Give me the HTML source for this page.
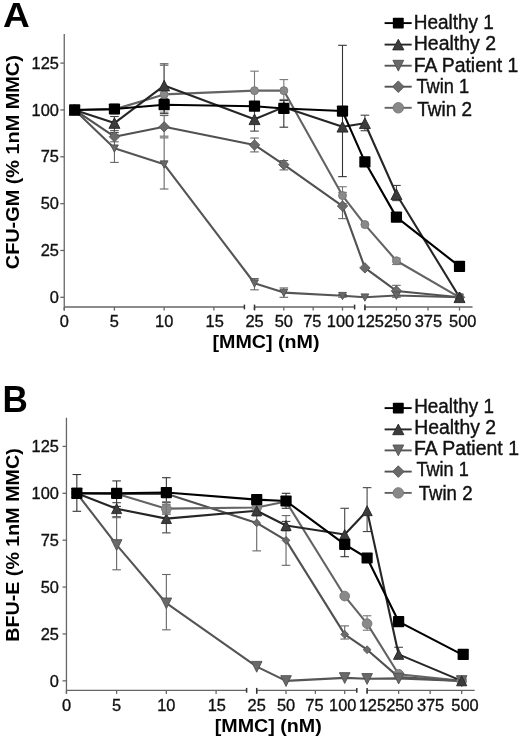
<!DOCTYPE html>
<html><head><meta charset="utf-8"><style>
html,body{margin:0;padding:0;background:#fff;}
svg{display:block;filter:grayscale(1) blur(0.35px);}
text{font-family:"Liberation Sans",sans-serif;fill:#111;}
.tk{font-size:16.4px;stroke:#111;stroke-width:0.35px;}
.lg{font-size:19.5px;stroke:#111;stroke-width:0.4px;}
.pl{font-size:33px;font-weight:bold;fill:#000;}
.yt{font-size:18.6px;font-weight:bold;fill:#000;}
.xt{font-size:18.6px;font-weight:bold;fill:#000;}
</style></head><body>
<svg width="520" height="741" viewBox="0 0 520 741">
<rect width="520" height="741" fill="#fff"/>
<line x1="64.25" y1="34.00" x2="64.25" y2="310.40" stroke="#666" stroke-width="1.3"/>
<line x1="60.35" y1="297.30" x2="64.25" y2="297.30" stroke="#666" stroke-width="1.3"/>
<text x="58.9" y="303.00" text-anchor="end" class="tk">0</text>
<line x1="60.35" y1="250.46" x2="64.25" y2="250.46" stroke="#666" stroke-width="1.3"/>
<text x="58.9" y="256.16" text-anchor="end" class="tk">25</text>
<line x1="60.35" y1="203.62" x2="64.25" y2="203.62" stroke="#666" stroke-width="1.3"/>
<text x="58.9" y="209.32" text-anchor="end" class="tk">50</text>
<line x1="60.35" y1="156.78" x2="64.25" y2="156.78" stroke="#666" stroke-width="1.3"/>
<text x="58.9" y="162.48" text-anchor="end" class="tk">75</text>
<line x1="60.35" y1="109.94" x2="64.25" y2="109.94" stroke="#666" stroke-width="1.3"/>
<text x="58.9" y="115.64" text-anchor="end" class="tk">100</text>
<line x1="60.35" y1="63.10" x2="64.25" y2="63.10" stroke="#666" stroke-width="1.3"/>
<text x="58.9" y="68.80" text-anchor="end" class="tk">125</text>
<line x1="64.25" y1="307.00" x2="244.40" y2="307.00" stroke="#666" stroke-width="1.3"/>
<line x1="64.25" y1="307.00" x2="64.25" y2="310.60" stroke="#666" stroke-width="1.3"/>
<text x="64.25" y="326.70" text-anchor="middle" class="tk">0</text>
<line x1="114.43" y1="307.00" x2="114.43" y2="310.60" stroke="#666" stroke-width="1.3"/>
<text x="114.43" y="326.70" text-anchor="middle" class="tk">5</text>
<line x1="164.15" y1="307.00" x2="164.15" y2="310.60" stroke="#666" stroke-width="1.3"/>
<text x="164.15" y="326.70" text-anchor="middle" class="tk">10</text>
<line x1="213.88" y1="307.00" x2="213.88" y2="310.60" stroke="#666" stroke-width="1.3"/>
<text x="214.68" y="326.70" text-anchor="middle" class="tk">15</text>
<line x1="244.40" y1="304.60" x2="244.40" y2="309.40" stroke="#333" stroke-width="1.5"/>
<line x1="254.50" y1="307.00" x2="354.60" y2="307.00" stroke="#666" stroke-width="1.3"/>
<line x1="254.50" y1="307.00" x2="254.50" y2="310.60" stroke="#666" stroke-width="1.3"/>
<text x="254.50" y="326.70" text-anchor="middle" class="tk">25</text>
<line x1="283.83" y1="307.00" x2="283.83" y2="310.60" stroke="#666" stroke-width="1.3"/>
<text x="283.83" y="326.70" text-anchor="middle" class="tk">50</text>
<line x1="313.17" y1="307.00" x2="313.17" y2="310.60" stroke="#666" stroke-width="1.3"/>
<text x="312.27" y="326.70" text-anchor="middle" class="tk">75</text>
<line x1="342.50" y1="307.00" x2="342.50" y2="310.60" stroke="#666" stroke-width="1.3"/>
<text x="340.50" y="326.70" text-anchor="middle" class="tk">100</text>
<line x1="354.60" y1="304.60" x2="354.60" y2="309.40" stroke="#333" stroke-width="1.5"/>
<line x1="254.50" y1="304.60" x2="254.50" y2="310.00" stroke="#333" stroke-width="1.5"/>
<line x1="364.90" y1="307.00" x2="472.50" y2="307.00" stroke="#666" stroke-width="1.3"/>
<line x1="364.90" y1="307.00" x2="364.90" y2="310.60" stroke="#666" stroke-width="1.3"/>
<text x="370.20" y="326.70" text-anchor="middle" class="tk">125</text>
<line x1="396.43" y1="307.00" x2="396.43" y2="310.60" stroke="#666" stroke-width="1.3"/>
<text x="397.63" y="326.70" text-anchor="middle" class="tk">250</text>
<line x1="427.97" y1="307.00" x2="427.97" y2="310.60" stroke="#666" stroke-width="1.3"/>
<text x="428.37" y="326.70" text-anchor="middle" class="tk">375</text>
<line x1="459.50" y1="307.00" x2="459.50" y2="310.60" stroke="#666" stroke-width="1.3"/>
<text x="462.80" y="326.70" text-anchor="middle" class="tk">500</text>
<line x1="364.90" y1="304.60" x2="364.90" y2="310.00" stroke="#333" stroke-width="1.5"/>
<g stroke="#666" stroke-width="1.1"><line x1="114.43" y1="134.30" x2="114.43" y2="162.40"/><line x1="110.13" y1="134.30" x2="118.73" y2="134.30"/><line x1="110.13" y1="162.40" x2="118.73" y2="162.40"/></g>
<g stroke="#666" stroke-width="1.1"><line x1="114.43" y1="130.55" x2="114.43" y2="141.79"/><line x1="110.13" y1="130.55" x2="118.73" y2="130.55"/><line x1="110.13" y1="141.79" x2="118.73" y2="141.79"/></g>
<g stroke="#333" stroke-width="1.1"><line x1="114.43" y1="104.32" x2="114.43" y2="113.69"/><line x1="110.13" y1="104.32" x2="118.73" y2="104.32"/><line x1="110.13" y1="113.69" x2="118.73" y2="113.69"/></g>
<g stroke="#444" stroke-width="1.1"><line x1="114.43" y1="116.50" x2="114.43" y2="132.42"/><line x1="110.13" y1="116.50" x2="118.73" y2="116.50"/><line x1="110.13" y1="132.42" x2="118.73" y2="132.42"/></g>
<g stroke="#444" stroke-width="1.1"><line x1="164.15" y1="63.85" x2="164.15" y2="108.07"/><line x1="159.85" y1="63.85" x2="168.45" y2="63.85"/><line x1="159.85" y1="108.07" x2="168.45" y2="108.07"/></g>
<g stroke="#777" stroke-width="1.1"><line x1="164.15" y1="65.35" x2="164.15" y2="112.19"/><line x1="159.85" y1="65.35" x2="168.45" y2="65.35"/><line x1="159.85" y1="112.19" x2="168.45" y2="112.19"/></g>
<g stroke="#333" stroke-width="1.1"><line x1="164.15" y1="98.70" x2="164.15" y2="113.69"/><line x1="159.85" y1="98.70" x2="168.45" y2="98.70"/><line x1="159.85" y1="113.69" x2="168.45" y2="113.69"/></g>
<g stroke="#666" stroke-width="1.1"><line x1="164.15" y1="115.56" x2="164.15" y2="136.17"/><line x1="159.85" y1="115.56" x2="168.45" y2="115.56"/><line x1="159.85" y1="136.17" x2="168.45" y2="136.17"/></g>
<g stroke="#666" stroke-width="1.1"><line x1="164.15" y1="137.86" x2="164.15" y2="189.01"/><line x1="159.85" y1="137.86" x2="168.45" y2="137.86"/><line x1="159.85" y1="189.01" x2="168.45" y2="189.01"/></g>
<g stroke="#777" stroke-width="1.1"><line x1="254.50" y1="71.16" x2="254.50" y2="109.94"/><line x1="250.20" y1="71.16" x2="258.80" y2="71.16"/><line x1="250.20" y1="109.94" x2="258.80" y2="109.94"/></g>
<g stroke="#444" stroke-width="1.1"><line x1="254.50" y1="108.07" x2="254.50" y2="131.11"/><line x1="250.20" y1="108.07" x2="258.80" y2="108.07"/><line x1="250.20" y1="131.11" x2="258.80" y2="131.11"/></g>
<g stroke="#666" stroke-width="1.1"><line x1="254.50" y1="138.04" x2="254.50" y2="151.91"/><line x1="250.20" y1="138.04" x2="258.80" y2="138.04"/><line x1="250.20" y1="151.91" x2="258.80" y2="151.91"/></g>
<g stroke="#666" stroke-width="1.1"><line x1="254.50" y1="278.56" x2="254.50" y2="289.81"/><line x1="250.20" y1="278.56" x2="258.80" y2="278.56"/><line x1="250.20" y1="289.81" x2="258.80" y2="289.81"/></g>
<g stroke="#777" stroke-width="1.1"><line x1="283.83" y1="79.59" x2="283.83" y2="99.45"/><line x1="279.53" y1="79.59" x2="288.13" y2="79.59"/><line x1="279.53" y1="99.45" x2="288.13" y2="99.45"/></g>
<g stroke="#333" stroke-width="1.1"><line x1="283.83" y1="100.57" x2="283.83" y2="127.18"/><line x1="279.53" y1="100.57" x2="288.13" y2="100.57"/><line x1="279.53" y1="127.18" x2="288.13" y2="127.18"/></g>
<g stroke="#666" stroke-width="1.1"><line x1="283.83" y1="160.53" x2="283.83" y2="169.90"/><line x1="279.53" y1="160.53" x2="288.13" y2="160.53"/><line x1="279.53" y1="169.90" x2="288.13" y2="169.90"/></g>
<g stroke="#666" stroke-width="1.1"><line x1="283.83" y1="287.93" x2="283.83" y2="297.30"/><line x1="279.53" y1="287.93" x2="288.13" y2="287.93"/><line x1="279.53" y1="297.30" x2="288.13" y2="297.30"/></g>
<g stroke="#333" stroke-width="1.1"><line x1="342.50" y1="45.30" x2="342.50" y2="176.64"/><line x1="338.20" y1="45.30" x2="346.80" y2="45.30"/><line x1="338.20" y1="176.64" x2="346.80" y2="176.64"/></g>
<g stroke="#777" stroke-width="1.1"><line x1="342.50" y1="186.76" x2="342.50" y2="203.62"/><line x1="338.20" y1="186.76" x2="346.80" y2="186.76"/><line x1="338.20" y1="203.62" x2="346.80" y2="203.62"/></g>
<g stroke="#666" stroke-width="1.1"><line x1="342.50" y1="192.38" x2="342.50" y2="218.61"/><line x1="338.20" y1="192.38" x2="346.80" y2="192.38"/><line x1="338.20" y1="218.61" x2="346.80" y2="218.61"/></g>
<g stroke="#666" stroke-width="1.1"><line x1="342.50" y1="294.49" x2="342.50" y2="297.30"/><line x1="338.20" y1="294.49" x2="346.80" y2="294.49"/><line x1="338.20" y1="297.30" x2="346.80" y2="297.30"/></g>
<g stroke="#444" stroke-width="1.1"><line x1="364.90" y1="115.19" x2="364.90" y2="130.74"/><line x1="360.60" y1="115.19" x2="369.20" y2="115.19"/><line x1="360.60" y1="130.74" x2="369.20" y2="130.74"/></g>
<g stroke="#444" stroke-width="1.1"><line x1="396.43" y1="185.45" x2="396.43" y2="200.62"/><line x1="392.13" y1="185.45" x2="400.73" y2="185.45"/><line x1="392.13" y1="200.62" x2="400.73" y2="200.62"/></g>
<g stroke="#777" stroke-width="1.1"><line x1="396.43" y1="258.33" x2="396.43" y2="264.51"/><line x1="392.13" y1="258.33" x2="400.73" y2="258.33"/><line x1="392.13" y1="264.51" x2="400.73" y2="264.51"/></g>
<g stroke="#666" stroke-width="1.1"><line x1="396.43" y1="285.31" x2="396.43" y2="297.30"/><line x1="392.13" y1="285.31" x2="400.73" y2="285.31"/><line x1="392.13" y1="297.30" x2="400.73" y2="297.30"/></g>
<polyline points="74.65,109.94 114.43,109.38 164.15,94.39 254.50,90.64 283.83,90.64 342.50,195.56 364.90,224.60 396.43,260.76 459.50,297.30" fill="none" stroke="#636363" stroke-width="2.1" stroke-linejoin="round"/>
<polyline points="74.65,109.94 114.43,136.73 164.15,126.80 254.50,144.98 283.83,164.65 342.50,206.06 364.90,267.88 396.43,290.93 459.50,297.30" fill="none" stroke="#515151" stroke-width="2.1" stroke-linejoin="round"/>
<polyline points="74.65,109.94 114.43,148.35 164.15,164.27 254.50,283.25 283.83,292.62 342.50,295.80 364.90,297.30 396.43,295.43 459.50,297.30" fill="none" stroke="#555555" stroke-width="2.1" stroke-linejoin="round"/>
<polyline points="74.65,109.94 114.43,123.06 164.15,85.58 254.50,119.31 283.83,107.13 342.50,126.80 364.90,123.24 396.43,194.25 459.50,297.30" fill="none" stroke="#262626" stroke-width="2.1" stroke-linejoin="round"/>
<polyline points="74.65,109.94 114.43,109.00 164.15,104.69 254.50,106.19 283.83,108.44 342.50,111.06 364.90,161.84 396.43,217.11 459.50,266.39" fill="none" stroke="#000" stroke-width="2.1" stroke-linejoin="round"/>
<circle cx="74.65" cy="109.94" r="4.0" fill="#898989" stroke="#767676" stroke-width="0.9"/>
<circle cx="114.43" cy="109.38" r="4.0" fill="#898989" stroke="#767676" stroke-width="0.9"/>
<circle cx="164.15" cy="94.39" r="4.0" fill="#898989" stroke="#767676" stroke-width="0.9"/>
<circle cx="254.50" cy="90.64" r="4.0" fill="#898989" stroke="#767676" stroke-width="0.9"/>
<circle cx="283.83" cy="90.64" r="4.0" fill="#898989" stroke="#767676" stroke-width="0.9"/>
<circle cx="342.50" cy="195.56" r="4.0" fill="#898989" stroke="#767676" stroke-width="0.9"/>
<circle cx="364.90" cy="224.60" r="4.0" fill="#898989" stroke="#767676" stroke-width="0.9"/>
<circle cx="396.43" cy="260.76" r="4.0" fill="#898989" stroke="#767676" stroke-width="0.9"/>
<circle cx="459.50" cy="297.30" r="4.0" fill="#898989" stroke="#767676" stroke-width="0.9"/>
<path d="M74.65,104.74 L79.85,109.94 L74.65,115.14 L69.45,109.94Z" fill="#6a6a6a" stroke="#555" stroke-width="0.9" stroke-linejoin="round"/>
<path d="M114.43,131.53 L119.63,136.73 L114.43,141.93 L109.23,136.73Z" fill="#6a6a6a" stroke="#555" stroke-width="0.9" stroke-linejoin="round"/>
<path d="M164.15,121.60 L169.35,126.80 L164.15,132.00 L158.95,126.80Z" fill="#6a6a6a" stroke="#555" stroke-width="0.9" stroke-linejoin="round"/>
<path d="M254.50,139.78 L259.70,144.98 L254.50,150.18 L249.30,144.98Z" fill="#6a6a6a" stroke="#555" stroke-width="0.9" stroke-linejoin="round"/>
<path d="M283.83,159.45 L289.03,164.65 L283.83,169.85 L278.63,164.65Z" fill="#6a6a6a" stroke="#555" stroke-width="0.9" stroke-linejoin="round"/>
<path d="M342.50,200.86 L347.70,206.06 L342.50,211.26 L337.30,206.06Z" fill="#6a6a6a" stroke="#555" stroke-width="0.9" stroke-linejoin="round"/>
<path d="M364.90,262.68 L370.10,267.88 L364.90,273.08 L359.70,267.88Z" fill="#6a6a6a" stroke="#555" stroke-width="0.9" stroke-linejoin="round"/>
<path d="M396.43,285.73 L401.63,290.93 L396.43,296.13 L391.23,290.93Z" fill="#6a6a6a" stroke="#555" stroke-width="0.9" stroke-linejoin="round"/>
<path d="M459.50,292.10 L464.70,297.30 L459.50,302.50 L454.30,297.30Z" fill="#6a6a6a" stroke="#555" stroke-width="0.9" stroke-linejoin="round"/>
<path d="M74.65,113.84 L78.55,106.54 L70.75,106.54Z" fill="#696969" stroke="#505050" stroke-width="0.9" stroke-linejoin="round"/>
<path d="M114.43,152.25 L118.33,144.95 L110.53,144.95Z" fill="#696969" stroke="#505050" stroke-width="0.9" stroke-linejoin="round"/>
<path d="M164.15,168.17 L168.05,160.87 L160.25,160.87Z" fill="#696969" stroke="#505050" stroke-width="0.9" stroke-linejoin="round"/>
<path d="M254.50,287.15 L258.40,279.85 L250.60,279.85Z" fill="#696969" stroke="#505050" stroke-width="0.9" stroke-linejoin="round"/>
<path d="M283.83,296.52 L287.73,289.22 L279.93,289.22Z" fill="#696969" stroke="#505050" stroke-width="0.9" stroke-linejoin="round"/>
<path d="M342.50,299.70 L346.40,292.40 L338.60,292.40Z" fill="#696969" stroke="#505050" stroke-width="0.9" stroke-linejoin="round"/>
<path d="M364.90,301.20 L368.80,293.90 L361.00,293.90Z" fill="#696969" stroke="#505050" stroke-width="0.9" stroke-linejoin="round"/>
<path d="M396.43,299.33 L400.33,292.03 L392.53,292.03Z" fill="#696969" stroke="#505050" stroke-width="0.9" stroke-linejoin="round"/>
<path d="M459.50,301.20 L463.40,293.90 L455.60,293.90Z" fill="#696969" stroke="#505050" stroke-width="0.9" stroke-linejoin="round"/>
<path d="M74.65,104.64 L80.15,115.24 L69.15,115.24Z" fill="#3c3c3c" stroke="#262626" stroke-width="0.9" stroke-linejoin="round"/>
<path d="M114.43,117.76 L119.93,128.36 L108.93,128.36Z" fill="#3c3c3c" stroke="#262626" stroke-width="0.9" stroke-linejoin="round"/>
<path d="M164.15,80.28 L169.65,90.88 L158.65,90.88Z" fill="#3c3c3c" stroke="#262626" stroke-width="0.9" stroke-linejoin="round"/>
<path d="M254.50,114.01 L260.00,124.61 L249.00,124.61Z" fill="#3c3c3c" stroke="#262626" stroke-width="0.9" stroke-linejoin="round"/>
<path d="M283.83,101.83 L289.33,112.43 L278.33,112.43Z" fill="#3c3c3c" stroke="#262626" stroke-width="0.9" stroke-linejoin="round"/>
<path d="M342.50,121.50 L348.00,132.10 L337.00,132.10Z" fill="#3c3c3c" stroke="#262626" stroke-width="0.9" stroke-linejoin="round"/>
<path d="M364.90,117.94 L370.40,128.54 L359.40,128.54Z" fill="#3c3c3c" stroke="#262626" stroke-width="0.9" stroke-linejoin="round"/>
<path d="M396.43,188.95 L401.93,199.55 L390.93,199.55Z" fill="#3c3c3c" stroke="#262626" stroke-width="0.9" stroke-linejoin="round"/>
<path d="M459.50,292.00 L465.00,302.60 L454.00,302.60Z" fill="#3c3c3c" stroke="#262626" stroke-width="0.9" stroke-linejoin="round"/>
<rect x="69.05" y="104.34" width="11.20" height="11.20" rx="0.8" fill="#000"/>
<rect x="108.83" y="103.40" width="11.20" height="11.20" rx="0.8" fill="#000"/>
<rect x="158.55" y="99.09" width="11.20" height="11.20" rx="0.8" fill="#000"/>
<rect x="248.90" y="100.59" width="11.20" height="11.20" rx="0.8" fill="#000"/>
<rect x="278.23" y="102.84" width="11.20" height="11.20" rx="0.8" fill="#000"/>
<rect x="336.90" y="105.46" width="11.20" height="11.20" rx="0.8" fill="#000"/>
<rect x="359.30" y="156.24" width="11.20" height="11.20" rx="0.8" fill="#000"/>
<rect x="390.83" y="211.51" width="11.20" height="11.20" rx="0.8" fill="#000"/>
<rect x="453.90" y="260.79" width="11.20" height="11.20" rx="0.8" fill="#000"/>
<line x1="384.6" y1="23.10" x2="411.7" y2="23.10" stroke="#000" stroke-width="1.9"/>
<rect x="392.85" y="17.65" width="10.90" height="10.90" rx="0.8" fill="#000"/>
<text x="413.80" y="29.30" class="lg" textLength="80.10" lengthAdjust="spacingAndGlyphs">Healthy 1</text>
<line x1="384.6" y1="44.60" x2="411.7" y2="44.60" stroke="#262626" stroke-width="1.9"/>
<path d="M398.30,39.30 L403.90,49.90 L392.70,49.90Z" fill="#3c3c3c" stroke="#262626" stroke-width="0.9" stroke-linejoin="round"/>
<text x="413.80" y="50.10" class="lg" textLength="82.20" lengthAdjust="spacingAndGlyphs">Healthy 2</text>
<line x1="384.6" y1="65.70" x2="411.7" y2="65.70" stroke="#555555" stroke-width="1.9"/>
<path d="M398.30,71.10 L403.70,60.30 L392.90,60.30Z" fill="#696969" stroke="#505050" stroke-width="0.9" stroke-linejoin="round"/>
<text x="413.70" y="71.60" class="lg" textLength="104.60" lengthAdjust="spacingAndGlyphs">FA Patient 1</text>
<line x1="384.6" y1="86.70" x2="411.7" y2="86.70" stroke="#515151" stroke-width="1.9"/>
<path d="M398.30,80.90 L404.10,86.70 L398.30,92.50 L392.50,86.70Z" fill="#6a6a6a" stroke="#555" stroke-width="0.9" stroke-linejoin="round"/>
<text x="416.50" y="92.60" class="lg" textLength="52.60" lengthAdjust="spacingAndGlyphs">Twin 1</text>
<line x1="384.6" y1="107.80" x2="411.7" y2="107.80" stroke="#636363" stroke-width="1.9"/>
<circle cx="398.30" cy="107.80" r="5.25" fill="#898989" stroke="#767676" stroke-width="0.9"/>
<text x="417.30" y="115.70" class="lg" textLength="54.80" lengthAdjust="spacingAndGlyphs">Twin 2</text>
<text transform="translate(3.0,27.3) scale(1.05,1)" class="pl" style="font-size:35.3px">A</text>
<text transform="translate(18.9,269.2) rotate(-90)" class="yt" textLength="214.0" lengthAdjust="spacingAndGlyphs">CFU-GM (% 1nM MMC)</text>
<text x="212.5" y="347.9" class="xt" textLength="107.0" lengthAdjust="spacingAndGlyphs">[MMC] (nM)</text>
<line x1="66.45" y1="417.80" x2="66.45" y2="693.70" stroke="#666" stroke-width="1.3"/>
<line x1="62.55" y1="680.85" x2="66.45" y2="680.85" stroke="#666" stroke-width="1.3"/>
<text x="58.9" y="686.55" text-anchor="end" class="tk">0</text>
<line x1="62.55" y1="633.96" x2="66.45" y2="633.96" stroke="#666" stroke-width="1.3"/>
<text x="58.9" y="639.66" text-anchor="end" class="tk">25</text>
<line x1="62.55" y1="587.07" x2="66.45" y2="587.07" stroke="#666" stroke-width="1.3"/>
<text x="58.9" y="592.77" text-anchor="end" class="tk">50</text>
<line x1="62.55" y1="540.18" x2="66.45" y2="540.18" stroke="#666" stroke-width="1.3"/>
<text x="58.9" y="545.88" text-anchor="end" class="tk">75</text>
<line x1="62.55" y1="493.29" x2="66.45" y2="493.29" stroke="#666" stroke-width="1.3"/>
<text x="58.9" y="498.99" text-anchor="end" class="tk">100</text>
<line x1="62.55" y1="446.40" x2="66.45" y2="446.40" stroke="#666" stroke-width="1.3"/>
<text x="58.9" y="452.10" text-anchor="end" class="tk">125</text>
<line x1="66.45" y1="690.30" x2="246.60" y2="690.30" stroke="#666" stroke-width="1.3"/>
<line x1="66.45" y1="690.30" x2="66.45" y2="693.90" stroke="#666" stroke-width="1.3"/>
<text x="66.45" y="711.40" text-anchor="middle" class="tk">0</text>
<line x1="116.62" y1="690.30" x2="116.62" y2="693.90" stroke="#666" stroke-width="1.3"/>
<text x="116.62" y="711.40" text-anchor="middle" class="tk">5</text>
<line x1="166.35" y1="690.30" x2="166.35" y2="693.90" stroke="#666" stroke-width="1.3"/>
<text x="166.35" y="711.40" text-anchor="middle" class="tk">10</text>
<line x1="216.08" y1="690.30" x2="216.08" y2="693.90" stroke="#666" stroke-width="1.3"/>
<text x="216.88" y="711.40" text-anchor="middle" class="tk">15</text>
<line x1="246.60" y1="687.90" x2="246.60" y2="692.70" stroke="#333" stroke-width="1.5"/>
<line x1="256.70" y1="690.30" x2="356.80" y2="690.30" stroke="#666" stroke-width="1.3"/>
<line x1="256.70" y1="690.30" x2="256.70" y2="693.90" stroke="#666" stroke-width="1.3"/>
<text x="256.70" y="711.40" text-anchor="middle" class="tk">25</text>
<line x1="286.03" y1="690.30" x2="286.03" y2="693.90" stroke="#666" stroke-width="1.3"/>
<text x="286.03" y="711.40" text-anchor="middle" class="tk">50</text>
<line x1="315.37" y1="690.30" x2="315.37" y2="693.90" stroke="#666" stroke-width="1.3"/>
<text x="314.47" y="711.40" text-anchor="middle" class="tk">75</text>
<line x1="344.70" y1="690.30" x2="344.70" y2="693.90" stroke="#666" stroke-width="1.3"/>
<text x="342.70" y="711.40" text-anchor="middle" class="tk">100</text>
<line x1="356.80" y1="687.90" x2="356.80" y2="692.70" stroke="#333" stroke-width="1.5"/>
<line x1="256.70" y1="687.90" x2="256.70" y2="693.30" stroke="#333" stroke-width="1.5"/>
<line x1="367.10" y1="690.30" x2="474.70" y2="690.30" stroke="#666" stroke-width="1.3"/>
<line x1="367.10" y1="690.30" x2="367.10" y2="693.90" stroke="#666" stroke-width="1.3"/>
<text x="372.40" y="711.40" text-anchor="middle" class="tk">125</text>
<line x1="398.63" y1="690.30" x2="398.63" y2="693.90" stroke="#666" stroke-width="1.3"/>
<text x="399.83" y="711.40" text-anchor="middle" class="tk">250</text>
<line x1="430.17" y1="690.30" x2="430.17" y2="693.90" stroke="#666" stroke-width="1.3"/>
<text x="430.57" y="711.40" text-anchor="middle" class="tk">375</text>
<line x1="461.70" y1="690.30" x2="461.70" y2="693.90" stroke="#666" stroke-width="1.3"/>
<text x="465.00" y="711.40" text-anchor="middle" class="tk">500</text>
<line x1="367.10" y1="687.90" x2="367.10" y2="693.30" stroke="#333" stroke-width="1.5"/>
<g stroke="#333" stroke-width="1.1"><line x1="76.84" y1="474.53" x2="76.84" y2="511.30"/><line x1="72.55" y1="474.53" x2="81.14" y2="474.53"/><line x1="72.55" y1="511.30" x2="81.14" y2="511.30"/></g>
<g stroke="#333" stroke-width="1.1"><line x1="116.62" y1="480.91" x2="116.62" y2="506.42"/><line x1="112.33" y1="480.91" x2="120.92" y2="480.91"/><line x1="112.33" y1="506.42" x2="120.92" y2="506.42"/></g>
<g stroke="#444" stroke-width="1.1"><line x1="116.62" y1="502.67" x2="116.62" y2="516.74"/><line x1="112.33" y1="502.67" x2="120.92" y2="502.67"/><line x1="112.33" y1="516.74" x2="120.92" y2="516.74"/></g>
<g stroke="#666" stroke-width="1.1"><line x1="116.62" y1="517.67" x2="116.62" y2="569.81"/><line x1="112.33" y1="517.67" x2="120.92" y2="517.67"/><line x1="112.33" y1="569.81" x2="120.92" y2="569.81"/></g>
<g stroke="#333" stroke-width="1.1"><line x1="166.35" y1="477.72" x2="166.35" y2="502.67"/><line x1="162.05" y1="477.72" x2="170.65" y2="477.72"/><line x1="162.05" y1="502.67" x2="170.65" y2="502.67"/></g>
<g stroke="#444" stroke-width="1.1"><line x1="166.35" y1="512.05" x2="166.35" y2="532.87"/><line x1="162.05" y1="512.05" x2="170.65" y2="512.05"/><line x1="162.05" y1="532.87" x2="170.65" y2="532.87"/></g>
<g stroke="#666" stroke-width="1.1"><line x1="166.35" y1="574.50" x2="166.35" y2="629.83"/><line x1="162.05" y1="574.50" x2="170.65" y2="574.50"/><line x1="162.05" y1="629.83" x2="170.65" y2="629.83"/></g>
<g stroke="#777" stroke-width="1.1"><line x1="166.35" y1="504.54" x2="166.35" y2="513.92"/><line x1="162.05" y1="504.54" x2="170.65" y2="504.54"/><line x1="162.05" y1="513.92" x2="170.65" y2="513.92"/></g>
<g stroke="#666" stroke-width="1.1"><line x1="256.70" y1="512.05" x2="256.70" y2="550.87"/><line x1="252.40" y1="512.05" x2="261.00" y2="512.05"/><line x1="252.40" y1="550.87" x2="261.00" y2="550.87"/></g>
<g stroke="#444" stroke-width="1.1"><line x1="256.70" y1="506.42" x2="256.70" y2="515.80"/><line x1="252.40" y1="506.42" x2="261.00" y2="506.42"/><line x1="252.40" y1="515.80" x2="261.00" y2="515.80"/></g>
<g stroke="#333" stroke-width="1.1"><line x1="286.03" y1="493.29" x2="286.03" y2="508.29"/><line x1="281.73" y1="493.29" x2="290.33" y2="493.29"/><line x1="281.73" y1="508.29" x2="290.33" y2="508.29"/></g>
<g stroke="#666" stroke-width="1.1"><line x1="286.03" y1="515.61" x2="286.03" y2="565.31"/><line x1="281.73" y1="515.61" x2="290.33" y2="515.61"/><line x1="281.73" y1="565.31" x2="290.33" y2="565.31"/></g>
<g stroke="#444" stroke-width="1.1"><line x1="286.03" y1="521.42" x2="286.03" y2="530.80"/><line x1="281.73" y1="521.42" x2="290.33" y2="521.42"/><line x1="281.73" y1="530.80" x2="290.33" y2="530.80"/></g>
<g stroke="#333" stroke-width="1.1"><line x1="344.70" y1="538.30" x2="344.70" y2="556.69"/><line x1="340.40" y1="538.30" x2="349.00" y2="538.30"/><line x1="340.40" y1="556.69" x2="349.00" y2="556.69"/></g>
<g stroke="#444" stroke-width="1.1"><line x1="344.70" y1="508.29" x2="344.70" y2="540.18"/><line x1="340.40" y1="508.29" x2="349.00" y2="508.29"/><line x1="340.40" y1="540.18" x2="349.00" y2="540.18"/></g>
<g stroke="#666" stroke-width="1.1"><line x1="344.70" y1="625.89" x2="344.70" y2="639.02"/><line x1="340.40" y1="625.89" x2="349.00" y2="625.89"/><line x1="340.40" y1="639.02" x2="349.00" y2="639.02"/></g>
<g stroke="#444" stroke-width="1.1"><line x1="367.10" y1="487.66" x2="367.10" y2="531.55"/><line x1="362.80" y1="487.66" x2="371.40" y2="487.66"/><line x1="362.80" y1="531.55" x2="371.40" y2="531.55"/></g>
<g stroke="#777" stroke-width="1.1"><line x1="367.10" y1="615.77" x2="367.10" y2="630.21"/><line x1="362.80" y1="615.77" x2="371.40" y2="615.77"/><line x1="362.80" y1="630.21" x2="371.40" y2="630.21"/></g>
<g stroke="#444" stroke-width="1.1"><line x1="398.63" y1="647.28" x2="398.63" y2="658.34"/><line x1="394.33" y1="647.28" x2="402.93" y2="647.28"/><line x1="394.33" y1="658.34" x2="402.93" y2="658.34"/></g>
<polyline points="76.84,493.29 116.62,494.04 166.35,493.67 256.70,522.92 286.03,540.37 344.70,634.34 367.10,649.72 398.63,677.10 461.70,680.85" fill="none" stroke="#515151" stroke-width="2.1" stroke-linejoin="round"/>
<polyline points="76.84,493.29 116.62,493.67 166.35,508.67 256.70,507.54 286.03,501.54 344.70,596.07 367.10,623.64 398.63,674.29 461.70,680.85" fill="none" stroke="#636363" stroke-width="2.1" stroke-linejoin="round"/>
<polyline points="76.84,493.29 116.62,544.87 166.35,603.20 256.70,666.60 286.03,680.85 344.70,677.85 367.10,678.79 398.63,678.41 461.70,680.85" fill="none" stroke="#555555" stroke-width="2.1" stroke-linejoin="round"/>
<polyline points="76.84,493.29 116.62,508.67 166.35,518.61 256.70,510.73 286.03,525.55 344.70,534.55 367.10,510.73 398.63,654.40 461.70,680.85" fill="none" stroke="#262626" stroke-width="2.1" stroke-linejoin="round"/>
<polyline points="76.84,493.29 116.62,493.29 166.35,492.54 256.70,499.67 286.03,500.98 344.70,544.31 367.10,558.00 398.63,621.58 461.70,654.40" fill="none" stroke="#000" stroke-width="2.1" stroke-linejoin="round"/>
<path d="M76.84,489.39 L80.75,493.29 L76.84,497.19 L72.94,493.29Z" fill="#6a6a6a" stroke="#555" stroke-width="0.9" stroke-linejoin="round"/>
<path d="M116.62,490.14 L120.53,494.04 L116.62,497.94 L112.72,494.04Z" fill="#6a6a6a" stroke="#555" stroke-width="0.9" stroke-linejoin="round"/>
<path d="M166.35,489.77 L170.25,493.67 L166.35,497.57 L162.45,493.67Z" fill="#6a6a6a" stroke="#555" stroke-width="0.9" stroke-linejoin="round"/>
<path d="M256.70,519.02 L260.60,522.92 L256.70,526.82 L252.80,522.92Z" fill="#6a6a6a" stroke="#555" stroke-width="0.9" stroke-linejoin="round"/>
<path d="M286.03,536.47 L289.93,540.37 L286.03,544.27 L282.13,540.37Z" fill="#6a6a6a" stroke="#555" stroke-width="0.9" stroke-linejoin="round"/>
<path d="M344.70,630.44 L348.60,634.34 L344.70,638.24 L340.80,634.34Z" fill="#6a6a6a" stroke="#555" stroke-width="0.9" stroke-linejoin="round"/>
<path d="M367.10,645.82 L371.00,649.72 L367.10,653.62 L363.20,649.72Z" fill="#6a6a6a" stroke="#555" stroke-width="0.9" stroke-linejoin="round"/>
<path d="M398.63,673.20 L402.53,677.10 L398.63,681.00 L394.73,677.10Z" fill="#6a6a6a" stroke="#555" stroke-width="0.9" stroke-linejoin="round"/>
<path d="M461.70,676.95 L465.60,680.85 L461.70,684.75 L457.80,680.85Z" fill="#6a6a6a" stroke="#555" stroke-width="0.9" stroke-linejoin="round"/>
<circle cx="76.84" cy="493.29" r="4.85" fill="#898989" stroke="#767676" stroke-width="0.9"/>
<circle cx="116.62" cy="493.67" r="4.85" fill="#898989" stroke="#767676" stroke-width="0.9"/>
<circle cx="166.35" cy="508.67" r="4.85" fill="#898989" stroke="#767676" stroke-width="0.9"/>
<circle cx="256.70" cy="507.54" r="4.85" fill="#898989" stroke="#767676" stroke-width="0.9"/>
<circle cx="286.03" cy="501.54" r="4.85" fill="#898989" stroke="#767676" stroke-width="0.9"/>
<circle cx="344.70" cy="596.07" r="4.85" fill="#898989" stroke="#767676" stroke-width="0.9"/>
<circle cx="367.10" cy="623.64" r="4.85" fill="#898989" stroke="#767676" stroke-width="0.9"/>
<circle cx="398.63" cy="674.29" r="4.85" fill="#898989" stroke="#767676" stroke-width="0.9"/>
<circle cx="461.70" cy="680.85" r="4.85" fill="#898989" stroke="#767676" stroke-width="0.9"/>
<path d="M76.84,498.89 L82.14,488.09 L71.55,488.09Z" fill="#696969" stroke="#505050" stroke-width="0.9" stroke-linejoin="round"/>
<path d="M116.62,550.47 L121.92,539.67 L111.33,539.67Z" fill="#696969" stroke="#505050" stroke-width="0.9" stroke-linejoin="round"/>
<path d="M166.35,608.80 L171.65,598.00 L161.05,598.00Z" fill="#696969" stroke="#505050" stroke-width="0.9" stroke-linejoin="round"/>
<path d="M256.70,672.20 L262.00,661.40 L251.40,661.40Z" fill="#696969" stroke="#505050" stroke-width="0.9" stroke-linejoin="round"/>
<path d="M286.03,686.45 L291.33,675.65 L280.73,675.65Z" fill="#696969" stroke="#505050" stroke-width="0.9" stroke-linejoin="round"/>
<path d="M344.70,683.45 L350.00,672.65 L339.40,672.65Z" fill="#696969" stroke="#505050" stroke-width="0.9" stroke-linejoin="round"/>
<path d="M367.10,684.39 L372.40,673.59 L361.80,673.59Z" fill="#696969" stroke="#505050" stroke-width="0.9" stroke-linejoin="round"/>
<path d="M398.63,684.01 L403.93,673.21 L393.33,673.21Z" fill="#696969" stroke="#505050" stroke-width="0.9" stroke-linejoin="round"/>
<path d="M461.70,686.45 L467.00,675.65 L456.40,675.65Z" fill="#696969" stroke="#505050" stroke-width="0.9" stroke-linejoin="round"/>
<path d="M76.84,488.34 L81.94,498.24 L71.75,498.24Z" fill="#3c3c3c" stroke="#262626" stroke-width="0.9" stroke-linejoin="round"/>
<path d="M116.62,503.72 L121.72,513.62 L111.53,513.62Z" fill="#3c3c3c" stroke="#262626" stroke-width="0.9" stroke-linejoin="round"/>
<path d="M166.35,513.66 L171.45,523.56 L161.25,523.56Z" fill="#3c3c3c" stroke="#262626" stroke-width="0.9" stroke-linejoin="round"/>
<path d="M256.70,505.78 L261.80,515.68 L251.60,515.68Z" fill="#3c3c3c" stroke="#262626" stroke-width="0.9" stroke-linejoin="round"/>
<path d="M286.03,520.60 L291.13,530.50 L280.93,530.50Z" fill="#3c3c3c" stroke="#262626" stroke-width="0.9" stroke-linejoin="round"/>
<path d="M344.70,529.60 L349.80,539.50 L339.60,539.50Z" fill="#3c3c3c" stroke="#262626" stroke-width="0.9" stroke-linejoin="round"/>
<path d="M367.10,505.78 L372.20,515.68 L362.00,515.68Z" fill="#3c3c3c" stroke="#262626" stroke-width="0.9" stroke-linejoin="round"/>
<path d="M398.63,649.45 L403.73,659.35 L393.53,659.35Z" fill="#3c3c3c" stroke="#262626" stroke-width="0.9" stroke-linejoin="round"/>
<path d="M461.70,675.90 L466.80,685.80 L456.60,685.80Z" fill="#3c3c3c" stroke="#262626" stroke-width="0.9" stroke-linejoin="round"/>
<rect x="71.25" y="487.69" width="11.20" height="11.20" rx="0.8" fill="#000"/>
<rect x="111.03" y="487.69" width="11.20" height="11.20" rx="0.8" fill="#000"/>
<rect x="160.75" y="486.94" width="11.20" height="11.20" rx="0.8" fill="#000"/>
<rect x="251.10" y="494.07" width="11.20" height="11.20" rx="0.8" fill="#000"/>
<rect x="280.43" y="495.38" width="11.20" height="11.20" rx="0.8" fill="#000"/>
<rect x="339.10" y="538.71" width="11.20" height="11.20" rx="0.8" fill="#000"/>
<rect x="361.50" y="552.40" width="11.20" height="11.20" rx="0.8" fill="#000"/>
<rect x="393.03" y="615.98" width="11.20" height="11.20" rx="0.8" fill="#000"/>
<rect x="457.60" y="648.80" width="11.20" height="11.20" rx="0.8" fill="#000"/>
<g stroke="#777" stroke-width="1.1"><line x1="166.35" y1="501.73" x2="166.35" y2="514.30"/><line x1="162.05" y1="501.73" x2="170.65" y2="501.73"/><line x1="162.05" y1="514.30" x2="170.65" y2="514.30"/></g>
<line x1="384.6" y1="408.10" x2="411.7" y2="408.10" stroke="#000" stroke-width="1.9"/>
<rect x="392.85" y="402.65" width="10.90" height="10.90" rx="0.8" fill="#000"/>
<text x="414.20" y="412.90" class="lg" textLength="79.70" lengthAdjust="spacingAndGlyphs">Healthy 1</text>
<line x1="384.6" y1="429.40" x2="411.7" y2="429.40" stroke="#262626" stroke-width="1.9"/>
<path d="M398.30,424.10 L403.90,434.70 L392.70,434.70Z" fill="#3c3c3c" stroke="#262626" stroke-width="0.9" stroke-linejoin="round"/>
<text x="414.20" y="433.60" class="lg" textLength="81.90" lengthAdjust="spacingAndGlyphs">Healthy 2</text>
<line x1="384.6" y1="450.40" x2="411.7" y2="450.40" stroke="#555555" stroke-width="1.9"/>
<path d="M398.30,455.80 L403.70,445.00 L392.90,445.00Z" fill="#696969" stroke="#505050" stroke-width="0.9" stroke-linejoin="round"/>
<text x="414.00" y="455.20" class="lg" textLength="105.00" lengthAdjust="spacingAndGlyphs">FA Patient 1</text>
<line x1="384.6" y1="471.60" x2="411.7" y2="471.60" stroke="#515151" stroke-width="1.9"/>
<path d="M398.30,465.80 L404.10,471.60 L398.30,477.40 L392.50,471.60Z" fill="#6a6a6a" stroke="#555" stroke-width="0.9" stroke-linejoin="round"/>
<text x="416.40" y="475.90" class="lg" textLength="52.30" lengthAdjust="spacingAndGlyphs">Twin 1</text>
<line x1="384.6" y1="492.90" x2="411.7" y2="492.90" stroke="#636363" stroke-width="1.9"/>
<circle cx="398.30" cy="492.90" r="5.25" fill="#898989" stroke="#767676" stroke-width="0.9"/>
<text x="418.70" y="500.30" class="lg" textLength="53.80" lengthAdjust="spacingAndGlyphs">Twin 2</text>
<text transform="translate(2.6,411.9) scale(0.95,1)" class="pl" style="font-size:37px">B</text>
<text transform="translate(18.9,641.8) rotate(-90)" class="yt" textLength="193.6" lengthAdjust="spacingAndGlyphs">BFU-E (% 1nM MMC)</text>
<text x="214.8" y="732.0" class="xt" textLength="107.0" lengthAdjust="spacingAndGlyphs">[MMC] (nM)</text>
</svg>
</body></html>
